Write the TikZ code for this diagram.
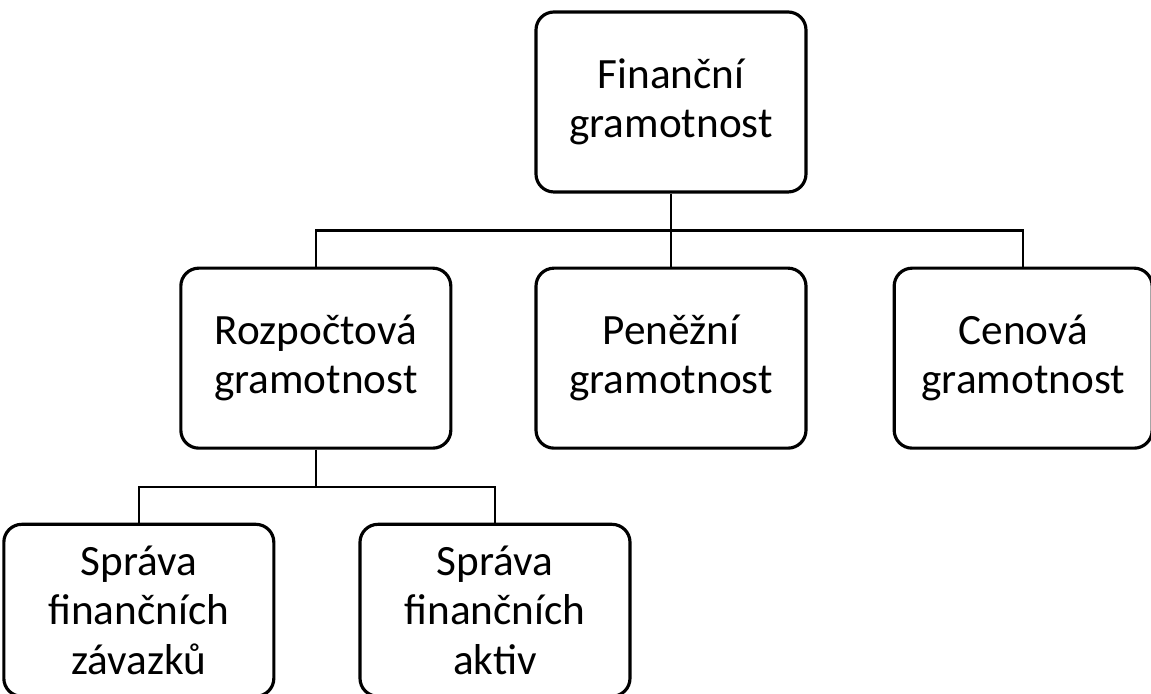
\documentclass[tikz,border=0pt]{standalone}
\usepackage{fontspec}
\setmainfont{Carlito}
\usetikzlibrary{positioning}

\begin{document}
\begin{tikzpicture}[box/.style={rectangle, rounded corners=0.18cm, draw, line width=0.9pt, align=center, minimum width=2.7cm, minimum height=1.8cm, inner sep=2pt, font=\fontsize{12.3}{14}\selectfont},
        link/.style={draw, line width=0.7pt}, node distance=0.73cm]
        \useasboundingbox (0,0) rectangle (11.51,-6.94);
        % top level
        \node[box] (fin) at (6.71,-1.02) {Finanční\\gramotnost};
        \node[box] (pen) [below = of fin] {Peněžní\\gramotnost};
        \node[box] (roz) [left = 0.82cm of pen] {Rozpočtová\\gramotnost};
        \node[box, minimum width=2.58cm] (cen) [right = 0.85cm of pen] {Cenová\\gramotnost};
        % second level
        \node[box, minimum height=1.72cm] (sz1) [below = of roz, xshift=-1.77cm] {Správa\\finančních\\závazků};
        \node[box, minimum height=1.72cm] (sz2) [right = 0.83cm of sz1] {Správa\\finančních\\aktiv};

        \path[link] (fin.south) -- ++(0,-0.37) coordinate (j1);
        \path[link] (roz.north) |- (j1) -| (cen.north);
        \path[link] (j1) -- (pen.north);

        \path[link] (roz.south) -- ++(0,-0.37) coordinate (j2);
        \path[link] (sz1.north) |- (j2) -| (sz2.north);
    \end{tikzpicture}
\end{document}
